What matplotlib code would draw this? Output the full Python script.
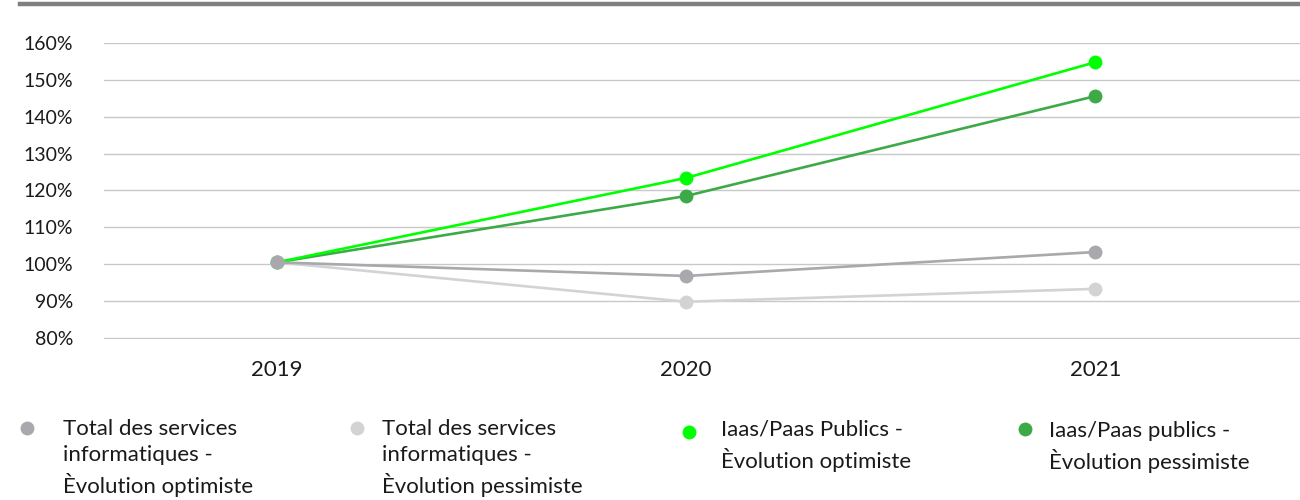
import matplotlib.pyplot as plt
from matplotlib.lines import Line2D

plt.rcParams['font.family'] = ['Lato', 'DejaVu Sans']

# Données
annees = ['2019', '2020', '2021']
total_optimiste = [100.5, 96.8, 103.3]
total_pessimiste = [100.5, 89.8, 93.3]
iaas_optimiste = [100.5, 123.4, 154.8]
iaas_pessimiste = [100.5, 118.5, 145.6]

series = [
    ('Total des services\ninformatiques -\nÈvolution optimiste', total_optimiste, '#a8a8ad'),
    ('Total des services\ninformatiques -\nÈvolution pessimiste', total_pessimiste, '#d3d3d5'),
    ('Iaas/Paas Publics -\nÈvolution optimiste', iaas_optimiste, '#00ff00'),
    ('Iaas/Paas publics -\nÈvolution pessimiste', iaas_pessimiste, '#3daa48'),
]
yticks = [80, 90, 100, 110, 120, 130, 140, 150, 160]

fig = plt.figure(figsize=(13, 5), dpi=100)
ax = fig.add_axes([0.08, 0.322, 0.92, 0.592])

x = list(range(len(annees)))
# la première série est dessinée au-dessus
for i, (nom, vals, col) in reversed(list(enumerate(series))):
    ax.plot(x, vals, color=col, lw=1.9, marker='o', markersize=10,
            markeredgewidth=0, zorder=3 + (len(series) - i), clip_on=False)

ax.set_xlim(-0.423, 2.5)
ax.set_ylim(79.7, 160)
ax.set_yticks(yticks)
ax.set_yticklabels([f'{v}%' for v in yticks])
ax.set_xticks(x)
ax.set_xticklabels(annees)
ax.tick_params(axis='y', length=0, pad=22, labelsize=14, labelcolor='#1a1a1a')
ax.tick_params(axis='x', length=0, pad=15, labelsize=16, labelcolor='#1a1a1a')
ax.grid(axis='y', color='#c8c8c8', lw=1)
for s in ax.spines.values():
    s.set_visible(False)

# barre grise en haut
fig.add_artist(Line2D([20 / 1300, 1.0], [1 - 4 / 500, 1 - 4 / 500],
                      color='#808080', lw=3.2, transform=fig.transFigure))

# légende
marker_x = [27, 357, 689, 1025]
text_x = [63, 382, 721, 1049]
marker_y = [428, 428, 432, 429]
text_y = [429, 429, 430, 431]
for (nom, vals, col), mx, tx, my, ty in zip(series, marker_x, text_x, marker_y, text_y):
    fig.add_artist(Line2D([mx / 1300], [1 - my / 500], marker='o', markersize=10,
                          markeredgewidth=0, color=col, transform=fig.transFigure))
    fig.text(tx / 1300, 1 - (ty - 10) / 500, nom, fontsize=16, color='#1a1a1a',
             va='top', ha='left', linespacing=1.4)

fig.savefig('out.png', dpi=100)
